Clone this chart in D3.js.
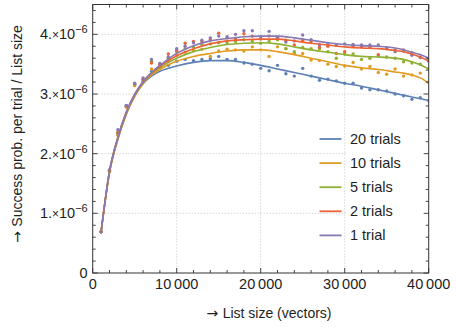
<!DOCTYPE html>
<html><head><meta charset="utf-8">
<script src="https://cdn.jsdelivr.net/npm/d3@7"></script>
<style>
html,body{margin:0;padding:0;background:#fff;}
svg{display:block;font-family:"Liberation Sans",Arial,sans-serif;}
.arr{font-family:"DejaVu Sans",sans-serif;}
</style></head>
<body><svg id="c" width="456" height="327"></svg>
<script>
// values in units of 1e-6 ; x in vectors
const seriesNames = ["20 trials","10 trials","5 trials","2 trials","1 trial"];
const seriesColors = ["#5E81B5","#E19C24","#8FB032","#EB6235","#8778B3"];
const pointX = d3.range(1000, 40001, 1000);
const pts20 = [0.69,1.71,2.34,2.80,3.15,3.21,3.38,3.45,3.48,3.55,3.58,3.56,3.58,3.59,3.63,3.58,3.58,3.52,3.50,3.43,3.39,3.48,3.34,3.30,3.43,3.30,3.23,3.25,3.22,3.18,3.18,3.10,3.07,3.07,3.05,3.00,2.97,2.91,2.94,2.89];
const pts10 = [0.69,1.70,2.31,2.78,3.14,3.22,3.42,3.46,3.55,3.65,3.70,3.73,3.75,3.63,3.72,3.75,3.74,3.72,3.79,3.74,3.63,3.79,3.76,3.68,3.68,3.57,3.56,3.50,3.46,3.47,3.53,3.42,3.46,3.36,3.33,3.42,3.30,3.32,3.35,3.20];
const pts5  = [0.69,1.71,2.36,2.80,3.16,3.24,3.55,3.50,3.60,3.71,3.76,3.79,3.83,3.84,3.86,3.86,3.88,3.91,3.88,3.85,3.88,3.91,3.76,3.71,3.78,3.76,3.76,3.71,3.60,3.67,3.67,3.58,3.60,3.64,3.62,3.60,3.54,3.52,3.50,3.43];
const pts2  = [0.69,1.72,2.35,2.80,3.17,3.25,3.52,3.50,3.67,3.73,3.85,3.88,3.87,3.91,4.02,3.94,3.93,4.01,3.97,3.92,3.97,3.94,3.90,3.82,3.90,3.88,3.78,3.80,3.68,3.71,3.80,3.79,3.78,3.66,3.77,3.74,3.74,3.69,3.61,3.55];
const pts1  = [0.69,1.73,2.40,2.81,3.18,3.27,3.58,3.51,3.62,3.76,3.80,3.86,3.90,3.94,3.97,3.96,4.00,4.06,4.06,3.96,4.05,3.95,3.87,3.89,3.99,3.91,3.82,3.84,3.82,3.84,3.83,3.82,3.82,3.82,3.76,3.71,3.72,3.65,3.62,3.58];
const fitX = [1000,2000,3000,4000,5000,6000,7000,8000,9000,10000,12000,14000,16000,18000,20000,22000,24000,26000,28000,30000,32000,34000,36000,37000,38000,39000,40000];
const fit20 = [0.69,1.68,2.24,2.66,2.96,3.17,3.30,3.38,3.43,3.47,3.53,3.56,3.56,3.53,3.48,3.42,3.36,3.30,3.24,3.18,3.13,3.07,3.01,2.98,2.95,2.92,2.89];
const fit10 = [0.69,1.69,2.25,2.67,2.97,3.18,3.32,3.41,3.49,3.55,3.63,3.68,3.72,3.74,3.74,3.71,3.66,3.60,3.54,3.48,3.44,3.41,3.37,3.35,3.32,3.27,3.18];
const fit5  = [0.69,1.70,2.26,2.68,2.98,3.19,3.34,3.44,3.53,3.60,3.71,3.78,3.83,3.85,3.86,3.84,3.79,3.74,3.70,3.66,3.63,3.62,3.60,3.58,3.54,3.49,3.42];
const fit2  = [0.69,1.70,2.27,2.69,2.99,3.20,3.35,3.46,3.56,3.64,3.76,3.84,3.89,3.91,3.92,3.92,3.89,3.85,3.82,3.79,3.77,3.76,3.73,3.71,3.67,3.62,3.55];
const fit1  = [0.69,1.71,2.28,2.70,3.00,3.21,3.36,3.48,3.59,3.68,3.81,3.89,3.93,3.96,3.97,3.97,3.94,3.90,3.86,3.83,3.81,3.80,3.77,3.74,3.70,3.66,3.60];
const xTicks = [0,10000,20000,30000,40000];
const xTickLabels = ["0","10\u2009000","20\u2009000","30\u2009000","40\u2009000"];
const yTicks = [0,1,2,3,4];
const yTickMantissa = ["0","1.","2.","3.","4."];
const yExponent = "\u22126";
const xTitle = "List size (vectors)";
const yTitle = "Success prob. per trial / List size";

const points = [pts20,pts10,pts5,pts2,pts1];
const fits = [fit20,fit10,fit5,fit2,fit1];

const L=92.7, R=428.7, T=4.5, B=273;
const x = d3.scaleLinear().domain([0,40000]).range([L,R]);
const y = d3.scaleLinear().domain([0,4.5]).range([B,T]);
const svg = d3.select("#c");
const ink = "#1e1e1e";

// grid
const g = svg.append("g");
g.selectAll("line.gx").data(xTicks.filter(d=>d>0&&d<40000)).join("line")
  .attr("x1",d=>x(d)).attr("x2",d=>x(d)).attr("y1",T).attr("y2",B)
  .attr("stroke","#c4c4c4").attr("stroke-width",1).attr("stroke-dasharray","1,2");
g.selectAll("line.gy").data(yTicks.filter(d=>d>0)).join("line")
  .attr("x1",L).attr("x2",R).attr("y1",d=>y(d)).attr("y2",d=>y(d))
  .attr("stroke","#c4c4c4").attr("stroke-width",1).attr("stroke-dasharray","1,2");

// legend text background
svg.append("rect").attr("x",346.5).attr("y",128).attr("width",R-347.5).attr("height",118).attr("fill","#fff");

// clip
svg.append("clipPath").attr("id","cp").append("rect").attr("x",L).attr("y",T).attr("width",R-L).attr("height",B-T);
const plot = svg.append("g").attr("clip-path","url(#cp)");

const line = d3.line().x(d=>x(d[0])).y(d=>y(d[1])).curve(d3.curveMonotoneX);
seriesNames.forEach((n,i)=>{
  plot.append("g").selectAll("circle").data(pointX.map((px,j)=>[px,points[i][j]])).join("circle")
    .attr("cx",d=>x(d[0])).attr("cy",d=>y(d[1])).attr("r",1.7).attr("fill",seriesColors[i]);
});
seriesNames.forEach((n,i)=>{
  plot.append("path").attr("d",line(fitX.map((fx,j)=>[fx,fits[i][j]])))
    .attr("fill","none").attr("stroke",seriesColors[i]).attr("stroke-width",1.6);
});

// frame
svg.append("rect").attr("x",L).attr("y",T).attr("width",R-L).attr("height",B-T)
  .attr("fill","none").attr("stroke","#333").attr("stroke-width",1);

// ticks
const tk = svg.append("g").attr("stroke","#333").attr("stroke-width",0.9);
const xMinor = d3.range(0,40001,2000);
const yMinor = d3.range(0,4.5001,0.2);
xMinor.forEach(v=>{
  const major = v%10000===0; const len = major?5:3;
  tk.append("line").attr("x1",x(v)).attr("x2",x(v)).attr("y1",B).attr("y2",B-len);
  tk.append("line").attr("x1",x(v)).attr("x2",x(v)).attr("y1",T).attr("y2",T+len);
});
yMinor.forEach(v=>{
  const major = Math.abs(v-Math.round(v))<1e-6; const len = major?5:3;
  tk.append("line").attr("x1",L).attr("x2",L+len).attr("y1",y(v)).attr("y2",y(v));
  tk.append("line").attr("x1",R).attr("x2",R-len).attr("y1",y(v)).attr("y2",y(v));
});

// tick labels
const fs = 14.5;
svg.append("g").selectAll("text").data(xTicks).join("text")
  .attr("x",d=>x(d)).attr("y",B+15.5).attr("text-anchor","middle")
  .attr("font-size",fs).attr("fill",ink).text((d,i)=>xTickLabels[i]);
const yl = svg.append("g");
yTicks.forEach((v,i)=>{
  const t = yl.append("text").attr("x",L-5).attr("y",y(v)+5).attr("text-anchor","end")
    .attr("font-size",fs).attr("fill",ink);
  if(v===0){ t.text(yTickMantissa[i]); return; }
  t.append("tspan").text(yTickMantissa[i]);
  t.append("tspan").attr("font-size",12).text("\u00d7");
  t.append("tspan").text("10");
  t.append("tspan").attr("font-size",11).attr("dy",-6).text(yExponent);
});

// titles
const xt = svg.append("text").attr("x",269).attr("y",318).attr("text-anchor","middle")
  .attr("font-size",14).attr("fill",ink);
xt.append("tspan").attr("class","arr").text("\u2192 ");
xt.append("tspan").text(xTitle);
const yt = svg.append("text").attr("transform","translate(21.5,134) rotate(-90)").attr("text-anchor","middle")
  .attr("font-size",14).attr("fill",ink);
yt.append("tspan").attr("class","arr").text("\u2192 ");
yt.append("tspan").text(yTitle);

// legend
const lg = svg.append("g");
seriesNames.forEach((n,i)=>{
  const yy = 139 + i*24.1;
  lg.append("line").attr("x1",319.5).attr("x2",341.5).attr("y1",yy).attr("y2",yy)
    .attr("stroke",seriesColors[i]).attr("stroke-width",1.8);
  lg.append("text").attr("x",350).attr("y",yy+5).attr("font-size",14.5).attr("fill",ink).text(n);
});
</script></body></html>
